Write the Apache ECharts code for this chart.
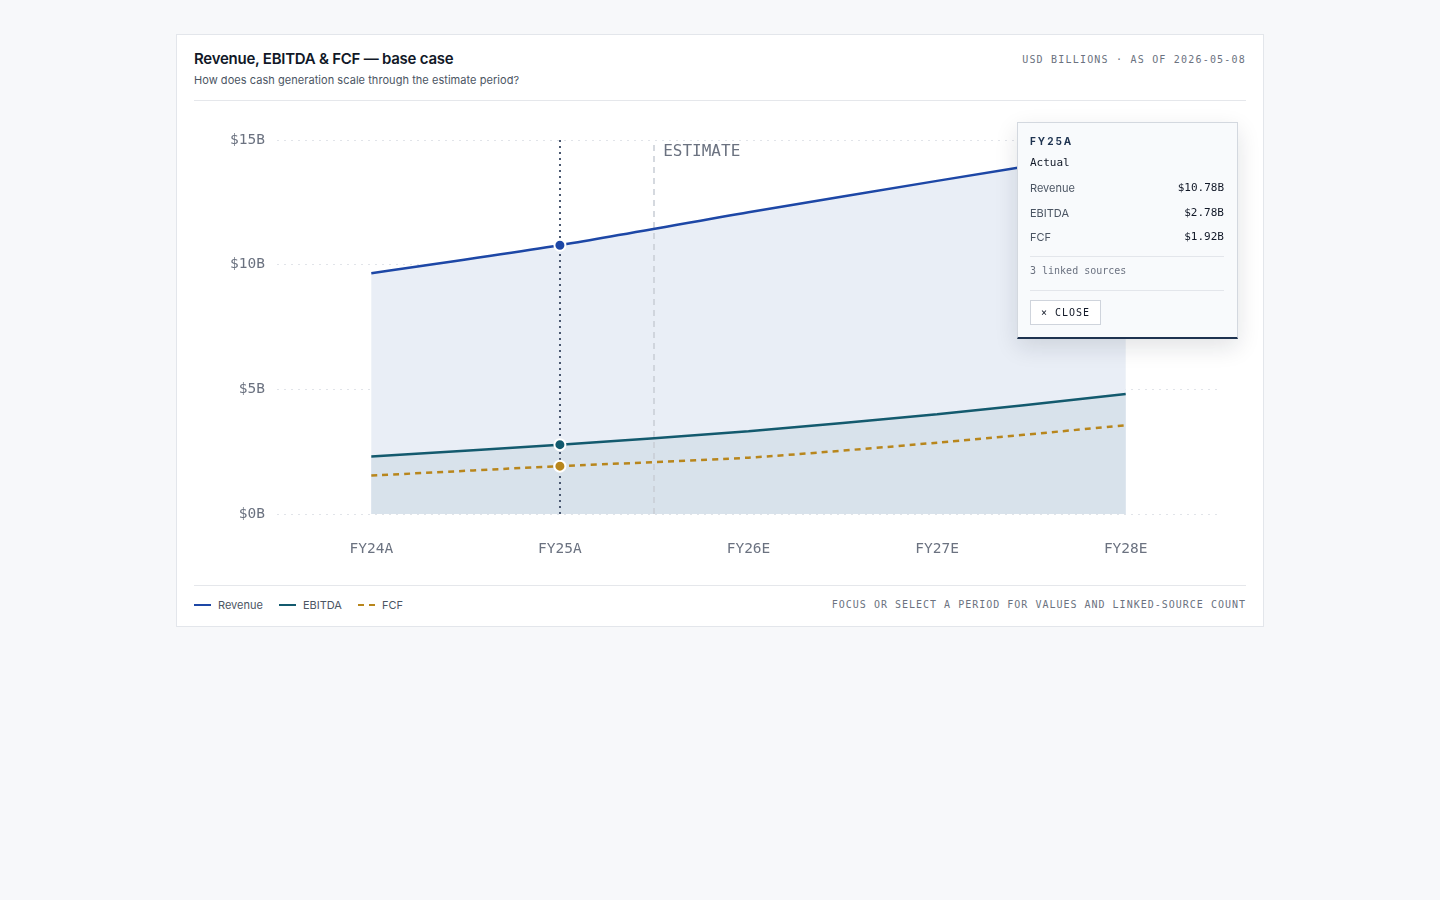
<!DOCTYPE html>
<html>
<head>
<meta charset="utf-8">
<script src="https://cdn.jsdelivr.net/npm/echarts@6/dist/echarts.min.js"></script>
<style>
  html, body { margin: 0; padding: 0; background: #f7f8fa; width: 1440px; height: 900px; overflow: hidden; }
  * { box-sizing: border-box; }
  .card { position: absolute; left: 176px; top: 34px; width: 1088px; height: 593px; background: #fff; border: 1px solid #e3e6eb; font-family: Inter, "Noto Sans", sans-serif; }
  .title { position: absolute; left: 17px; top: 14px; font-size: 15px; font-weight: 600; color: #111827; letter-spacing: -0.25px; }
  .subtitle { position: absolute; left: 17px; top: 38px; font-size: 11px; color: #4b5563; letter-spacing: 0.05px; }
  .meta { position: absolute; right: 17px; top: 19px; font-family: "DejaVu Sans Mono", monospace; font-size: 10px; letter-spacing: 1.2px; color: #6b7280; }
  .sep { position: absolute; left: 17px; right: 17px; height: 1px; background: #e5e7eb; }
  #chart { position: absolute; left: 0; top: 66px; width: 1086px; height: 485px; }
  .legend { position: absolute; left: 17px; top: 563px; display: flex; align-items: center; font-size: 11px; color: #4b5563; }
  .legend .item { display: flex; align-items: center; margin-right: 16px; }
  .legend .sw { width: 17px; height: 0; margin-right: 7px; }
  .footnote { position: absolute; right: 17px; top: 564px; font-family: "DejaVu Sans Mono", monospace; font-size: 10px; letter-spacing: 1px; color: #6b7280; }
  .tip { position: absolute; left: 840px; top: 87px; width: 221px; height: 217px; background: #f8fafc; border: 1px solid #d3d8df; border-bottom: 2px solid #1e3350; box-shadow: 0 8px 22px rgba(15,23,42,0.12); padding: 0 13px; }
  .tip .per { position: absolute; left: 12px; top: 12px; font-size: 10px; font-weight: 700; letter-spacing: 2px; color: #1e3350; }
  .tip .st { position: absolute; left: 12px; top: 33px; font-family: "DejaVu Sans Mono", monospace; font-size: 11px; color: #111827; }
  .tip .row { position: absolute; left: 12px; right: 13px; display: flex; justify-content: space-between; font-size: 11px; color: #4b5563; }
  .tip .row .v { font-family: "DejaVu Sans Mono", monospace; color: #111827; font-size: 11px; }
  .tip .hr { position: absolute; left: 12px; right: 13px; height: 1px; background: #e3e6eb; }
  .tip .src { position: absolute; left: 12px; top: 142px; font-family: "DejaVu Sans Mono", monospace; font-size: 10px; color: #6b7280; }
  .tip .btn { position: absolute; left: 12px; top: 177px; width: 71px; height: 25px; border: 1px solid #cfd4dc; background: #fff; font-family: "DejaVu Sans Mono", monospace; font-size: 10px; letter-spacing: 1px; color: #111827; display: flex; align-items: center; justify-content: center; }
</style>
</head>
<body>
<div class="card">
  <div class="title">Revenue, EBITDA &amp; FCF — base case</div>
  <div class="subtitle">How does cash generation scale through the estimate period?</div>
  <div class="meta">USD BILLIONS · AS OF 2026-05-08</div>
  <div class="sep" style="top:65px"></div>
  <div id="chart"></div>
  <div class="sep" style="top:550px"></div>
  <div class="legend" id="legend"></div>
  <div class="footnote">FOCUS OR SELECT A PERIOD FOR VALUES AND LINKED-SOURCE COUNT</div>
  <div class="tip" id="tip"></div>
</div>
<script>
// ---- data ----
const categories = ['FY24A', 'FY25A', 'FY26E', 'FY27E', 'FY28E'];
const revenue = [9.66, 10.78, 12.10, 13.36, 14.60];
const ebitda = [2.31, 2.78, 3.32, 4.00, 4.81];
const fcf = [1.54, 1.92, 2.26, 2.86, 3.56];
const seriesNames = ['Revenue', 'EBITDA', 'FCF'];
const yMin = 0, yMax = 15, yInterval = 5;
const selectedIndex = 1;          // FY25A selected
const estimateBoundary = 2;        // boundary between FY25A and FY26E (on 0..5 scale)
const selectedStatus = 'Actual';
const linkedSources = 3;

// ---- styles ----
const colors = { Revenue: '#1d47a6', EBITDA: '#135a6e', FCF: '#b8861c' };
const dashes = { Revenue: 'solid', EBITDA: 'solid', FCF: [6, 5] };
const mono = '"DejaVu Sans Mono", monospace';
const smoothVal = 0.25;

function pointData(arr, color) {
  return arr.map((v, i) => i === selectedIndex
    ? { value: v, symbol: 'circle', symbolSize: 11, itemStyle: { color: color, borderColor: '#fff', borderWidth: 2 } }
    : { value: v, symbol: 'none' });
}

const chart = echarts.init(document.getElementById('chart'), null, { renderer: 'canvas' });
const lineSeries = [['Revenue', revenue], ['EBITDA', ebitda], ['FCF', fcf]].map(([name, arr]) => ({
  name: name, type: 'line', data: pointData(arr, colors[name]), smooth: smoothVal,
  showSymbol: true, z: 5,
  lineStyle: { color: colors[name], width: 2.5, type: dashes[name] },
  itemStyle: { color: colors[name] }, silent: true, animation: false
}));

chart.setOption({
  animation: false,
  grid: { left: 100, right: 43, top: 39, bottom: 72 },
  xAxis: [
    { type: 'category', data: categories, boundaryGap: true,
      axisLine: { show: false }, axisTick: { show: false },
      axisLabel: { color: '#6b7280', fontFamily: mono, fontSize: 14.5, margin: 28 } },
    { type: 'value', min: 0, max: categories.length, show: false }
  ],
  yAxis: { type: 'value', min: yMin, max: yMax, interval: yInterval,
    axisLine: { show: false }, axisTick: { show: false },
    axisLabel: { color: '#6b7280', fontFamily: mono, fontSize: 14.5, margin: 12, formatter: v => '$' + v + 'B' },
    splitLine: { lineStyle: { color: '#e1e4e9', type: [2, 5], width: 1.2 } } },
  series: [
    { name: 'revArea', type: 'line', data: revenue, smooth: smoothVal, symbol: 'none', z: 2,
      lineStyle: { width: 0, opacity: 0 }, areaStyle: { color: '#e9eef6', opacity: 1 }, silent: true },
    { name: 'ebitdaArea', type: 'line', data: ebitda, smooth: smoothVal, symbol: 'none', z: 2,
      lineStyle: { width: 0, opacity: 0 }, areaStyle: { color: '#d8e2eb', opacity: 1 }, silent: true },
    { name: 'markers', type: 'line', xAxisIndex: 1, data: [[estimateBoundary, yMin]], symbol: 'none', z: 3,
      lineStyle: { opacity: 0 }, silent: true,
      markLine: { symbol: ['none', 'none'], silent: true, animation: false, label: { show: false },
        data: [{ xAxis: estimateBoundary, lineStyle: { color: '#c8cdd5', type: [6, 5], width: 1.5 } },
               { xAxis: selectedIndex + 0.5, lineStyle: { color: '#4a5870', type: [2, 4], width: 2 } }] },
      markArea: { silent: true, itemStyle: { color: 'rgba(0,0,0,0)' },
        label: { show: true, position: 'insideTopLeft', distance: 5, offset: [4, -1],
          color: '#6b7280', fontFamily: mono, fontSize: 16 },
        data: [[{ xAxis: estimateBoundary, name: 'ESTIMATE' }, { xAxis: categories.length }]] } },
    ...lineSeries
  ]
});

// ---- legend ----
const legend = document.getElementById('legend');
seriesNames.forEach(n => {
  const it = document.createElement('div'); it.className = 'item';
  const sw = document.createElement('div'); sw.className = 'sw';
  sw.style.borderTop = '2px ' + (n === 'FCF' ? 'dashed ' : 'solid ') + colors[n];
  it.appendChild(sw);
  const t = document.createElement('span'); t.textContent = n; it.appendChild(t);
  legend.appendChild(it);
});

// ---- selected-period panel ----
const tip = document.getElementById('tip');
const vals = [revenue, ebitda, fcf];
let html = '<div class="per">' + categories[selectedIndex] + '</div>' +
  '<div class="st">' + selectedStatus + '</div>';
seriesNames.forEach((n, k) => {
  html += '<div class="row" style="top:' + (58 + k * 24.5) + 'px"><span>' + n + '</span><span class="v">$' +
    vals[k][selectedIndex].toFixed(2) + 'B</span></div>';
});
html += '<div class="hr" style="top:133px"></div>';
html += '<div class="src">' + linkedSources + ' linked sources</div>';
html += '<div class="hr" style="top:167px"></div>';
html += '<div class="btn">× CLOSE</div>';
tip.innerHTML = html;
</script>
</body>
</html>
